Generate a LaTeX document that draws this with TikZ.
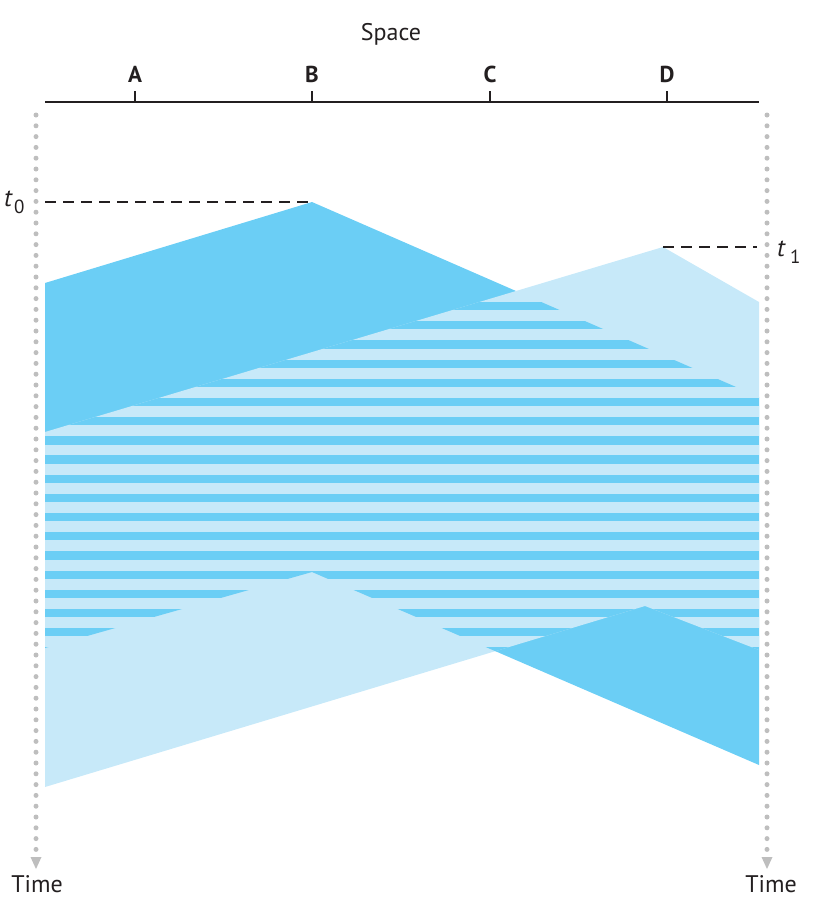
\documentclass[tikz,border=0pt]{standalone}
\usepackage{fontspec}
\setmainfont{PT Sans}
\definecolor{sigdark}{RGB}{107,206,245}
\definecolor{siglight}{RGB}{199,233,249}
\definecolor{dotgray}{RGB}{190,190,190}
\definecolor{inkc}{RGB}{35,31,32}
\begin{document}
\begin{tikzpicture}[x=1pt,y=-1pt,
  lbl/.style={font=\fontsize{24}{24}\selectfont, text=inkc, inner sep=0pt},
  stationlbl/.style={font=\bfseries\fontsize{23}{23}\selectfont, text=inkc, inner sep=0pt},
  tlbl/.style={font=\fontsize{25}{25}\selectfont, text=inkc, inner sep=0pt},
  timeline/.style={dotgray, line width=5pt, line cap=round, dash pattern=on 0pt off 10.8pt},
  marker/.style={inkc, line width=2.2pt, dash pattern=on 11pt off 7pt},
  axisline/.style={inkc, line width=2pt},
  tickline/.style={inkc, line width=2pt}]
\useasboundingbox (0,0) rectangle (814,914);

% signal regions
\coordinate (B1) at (45,283);  \coordinate (B2) at (312,202); \coordinate (B3) at (759,397);
\coordinate (B4) at (759,765); \coordinate (B5) at (312,572); \coordinate (B6) at (45,648);
\coordinate (D1) at (45,432);  \coordinate (D2) at (663,247); \coordinate (D3) at (759,302);
\coordinate (D4) at (759,650); \coordinate (D5) at (645,606); \coordinate (D6) at (45,787);

\fill[sigdark] (B1) -- (B2) -- (B3) -- (B4) -- (B5) -- (B6) -- cycle;
\fill[siglight] (D1) -- (D2) -- (D3) -- (D4) -- (D5) -- (D6) -- cycle;
\begin{scope}
  \clip (B1) -- (B2) -- (B3) -- (B4) -- (B5) -- (B6) -- cycle;
  \clip (D1) -- (D2) -- (D3) -- (D4) -- (D5) -- (D6) -- cycle;
  \foreach \k in {0,...,18}
    \fill[sigdark] (45,{302+19.18*\k}) rectangle (759,{310.3+19.18*\k});
\end{scope}

% space axis
\coordinate (axL) at (45,102);
\coordinate (axR) at (759,102);
\draw[axisline] (axL) -- (axR);
\node[lbl, anchor=base] (space) at (391,40) {Space};
\foreach \n/\x in {A/135,B/312,C/490,D/667}{
  \coordinate (tick\n) at (\x,102);
  \coordinate (tickt\n) at (\x,91);
  \draw[tickline] (tick\n) -- (tickt\n);
  \node[stationlbl, anchor=base] (lbl\n) at (\x,82) {\n};
}

% time lines
\coordinate (Ltop) at (36,115);  \coordinate (Lbot) at (36,852);
\coordinate (Rtop) at (767,115); \coordinate (Rbot) at (767,852);
\draw[timeline] (Ltop) -- (Lbot);
\draw[timeline] (Rtop) -- (Rbot);
\fill[dotgray] (30.5,857) -- (41.5,857) -- (36,869) -- cycle;
\fill[dotgray] (761.5,857) -- (772.5,857) -- (767,869) -- cycle;
\node[lbl, anchor=base] (timeL) at (37,892) {Time};
\node[lbl, anchor=base] (timeR) at (771,892) {Time};

% t0 and t1 markers
\coordinate (t0a) at (45,202);
\coordinate (t1b) at (757,247);
\draw[marker] (t0a) -- (B2);
\draw[marker] (D2) -- (t1b);
\node[tlbl, anchor=base west] (t0) at (4,206) {\itshape t\hspace{2pt}\raisebox{-7pt}{\upshape\fontsize{19}{19}\selectfont 0}};
\node[tlbl, anchor=base west] (t1) at (777,256) {\itshape t\hspace{5pt}\raisebox{-7pt}{\upshape\fontsize{19}{19}\selectfont 1}};
\end{tikzpicture}
\end{document}
